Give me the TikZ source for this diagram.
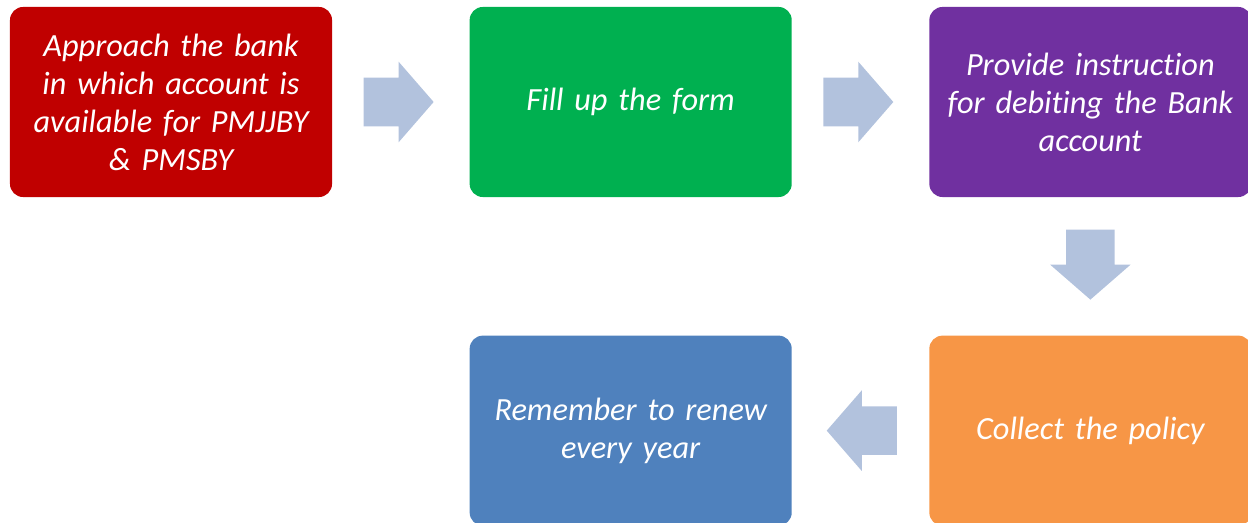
\documentclass[tikz,border=0pt]{standalone}
\usepackage{fontspec}
\setmainfont{Carlito}[Ligatures=NoCommon]
\usetikzlibrary{positioning,shapes.arrows}
\definecolor{stepred}{HTML}{C00000}
\definecolor{stepgreen}{HTML}{00B050}
\definecolor{steppurple}{HTML}{7030A0}
\definecolor{steporange}{HTML}{F79646}
\definecolor{stepblue}{HTML}{4F81BD}
\definecolor{flowblue}{HTML}{B2C2DD}
\tikzset{
  stepbox/.style={rounded corners=0.33cm, minimum width=8.05cm, minimum height=4.75cm,
    inner xsep=0.1cm, text width=7.8cm, align=center, text=white,
    font=\fontsize{23}{27}\selectfont\itshape},
  flow/.style={single arrow, fill=flowblue, inner sep=0.6cm, single arrow head extend=0.4cm,
    single arrow tip angle=98, minimum height=1.75cm}
}
\begin{document}
\begin{tikzpicture}[x=0.025cm, y=-0.025cm]
  \useasboundingbox (0,0) rectangle (1248,523);
  \node[stepbox, fill=stepred] (approach) at (171,102) {Approach the bank\\in which account is\\available for PMJJBY\\\& PMSBY};
  \node[stepbox, fill=stepgreen, right=3.425cm of approach] (form) {Fill up the form};
  \node[stepbox, fill=steppurple, right=3.425cm of form] (debit) {Provide instruction\\for debiting the Bank\\account};
  \node[stepbox, fill=steporange, below=3.45cm of debit] (policy) {Collect the policy};
  \node[stepbox, fill=stepblue, left=3.425cm of policy] (renew) {Remember to renew\\every year};
  % block arrows between the steps
  \node[flow, right=0.775cm of approach] (a1) {};
  \node[flow, right=0.775cm of form] (a2) {};
  \node[flow, shape border rotate=270, below=0.8cm of debit] (a3) {};
  \node[flow, shape border rotate=180, left=0.8cm of policy] (a4) {};
\end{tikzpicture}
\end{document}
